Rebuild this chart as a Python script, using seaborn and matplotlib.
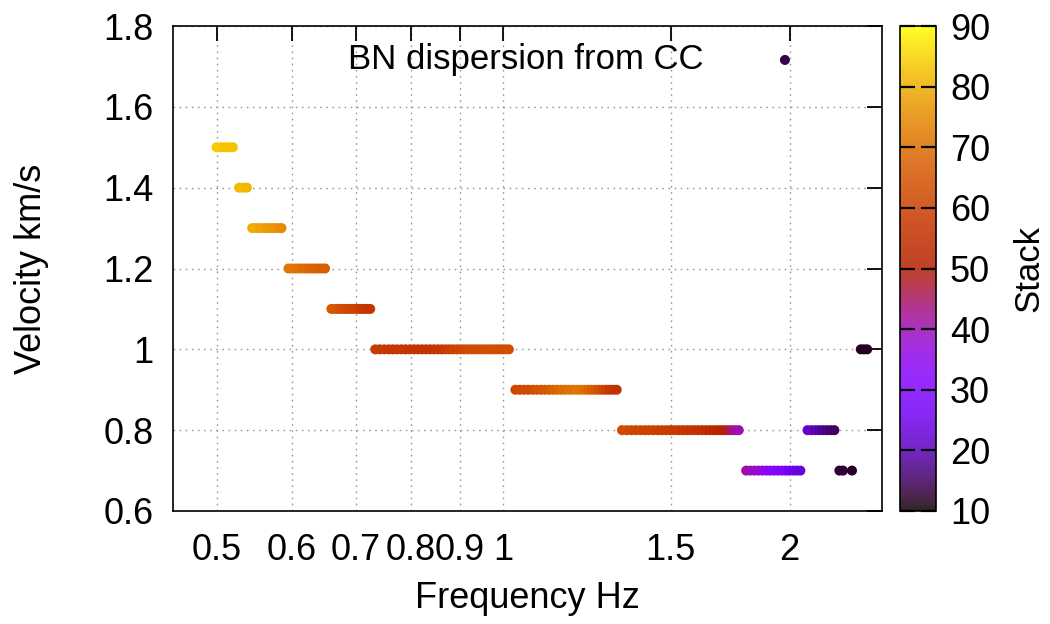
import numpy as np
import pandas as pd
import matplotlib
matplotlib.use("Agg")
import matplotlib.pyplot as plt
import seaborn as sns
from matplotlib.colors import ListedColormap, Normalize
from matplotlib.cm import ScalarMappable
from matplotlib.ticker import NullLocator

# ---------------- data ----------------
seg_velocity = [1.5, 1.4, 1.3, 1.2, 1.1, 1.0, 0.9, 0.8, 0.7, 0.8, 0.7, 1.0, 1.716]

seg_freq = [
    [0.500, 0.505, 0.510, 0.515, 0.520],
    [0.528, 0.533, 0.538],
    [0.545, 0.550, 0.555, 0.560, 0.565, 0.570, 0.575, 0.580, 0.585],
    [0.595, 0.600, 0.605, 0.610, 0.615, 0.620, 0.625, 0.630, 0.635, 0.640, 0.645, 0.650],
    [0.660, 0.665, 0.670, 0.675, 0.680, 0.685, 0.690, 0.695, 0.700, 0.705, 0.710, 0.715,
     0.720, 0.725],
    [0.734, 0.742, 0.750, 0.758, 0.766, 0.774, 0.782, 0.790, 0.798, 0.806, 0.814, 0.822,
     0.830, 0.838, 0.846, 0.854, 0.862, 0.870, 0.878, 0.886, 0.894, 0.902, 0.910, 0.918,
     0.926, 0.934, 0.942, 0.950, 0.958, 0.966, 0.974, 0.982, 0.990, 0.998, 1.006, 1.014],
    [1.030, 1.041, 1.052, 1.063, 1.074, 1.085, 1.096, 1.107, 1.118, 1.129, 1.140, 1.151,
     1.162, 1.173, 1.184, 1.195, 1.206, 1.217, 1.228, 1.239, 1.250, 1.261, 1.272, 1.283,
     1.294, 1.305, 1.316],
    [1.333, 1.348, 1.363, 1.378, 1.393, 1.408, 1.423, 1.438, 1.453, 1.468, 1.483, 1.498,
     1.513, 1.528, 1.543, 1.558, 1.573, 1.588, 1.603, 1.618, 1.633, 1.648, 1.663, 1.678,
     1.693, 1.708, 1.723, 1.738, 1.753, 1.768],
    [1.800, 1.818, 1.836, 1.854, 1.872, 1.890, 1.908, 1.926, 1.944, 1.962, 1.980, 1.998,
     2.016, 2.034, 2.052],
    [2.088, 2.108, 2.128, 2.148, 2.168, 2.188, 2.208, 2.228],
    [2.255, 2.275, 2.325],
    [2.375, 2.393, 2.412],
    [1.977],
]

seg_stack = [
    [84, 84, 83, 83, 83],
    [82, 82, 81],
    [80, 80, 79, 79, 78, 77, 77, 76, 75],
    [72, 72, 71, 71, 70, 70, 69, 69, 68, 68, 67, 67],
    [66, 66, 65, 64, 64, 63, 62, 61, 61, 60, 59, 58, 58, 57],
    [59, 59, 59, 58, 58, 58, 58, 57, 57, 57, 57, 57, 57, 57, 57, 58, 58, 59, 60, 61,
     61, 62, 62, 63, 63, 63, 63, 64, 64, 64, 64, 64, 64, 64, 64, 64],
    [62, 62, 63, 63, 64, 65, 65, 66, 67, 68, 69, 70, 70, 71, 71, 72, 71, 70, 69, 67,
     66, 64, 62, 60, 58, 57, 56],
    [63, 63, 62, 62, 62, 61, 61, 61, 60, 60, 60, 59, 59, 59, 58, 58, 57, 57, 56, 56,
     55, 54, 53, 52, 51, 50, 48, 45, 42, 40],
    [41, 40, 39, 38, 36, 35, 33, 32, 31, 30, 29, 27, 26, 24, 23],
    [22, 21, 20, 19, 18, 17, 16, 15],
    [13, 13, 12],
    [12, 12, 12],
    [14],
]

x_ticks = [0.5, 0.6, 0.7, 0.8, 0.9, 1.0, 1.5, 2.0]
x_ticklabels = ["0.5", "0.6", "0.7", "0.8", "0.9", "1", "1.5", "2"]
y_ticks = [0.6, 0.8, 1.0, 1.2, 1.4, 1.6, 1.8]
y_ticklabels = ["0.6", "0.8", "1", "1.2", "1.4", "1.6", "1.8"]
cb_ticks = [10, 20, 30, 40, 50, 60, 70, 80, 90]

rows = []
for v, fs, ss in zip(seg_velocity, seg_freq, seg_stack):
    for f, s in zip(fs, ss):
        rows.append((f, v, s))
df = pd.DataFrame(rows, columns=["Frequency", "Velocity", "Stack"])

# ---------------- style ----------------
sns.set_style("white")
plt.rcParams["font.family"] = ["Liberation Sans", "DejaVu Sans"]
for key in ["text.color", "axes.labelcolor", "xtick.color", "ytick.color", "axes.edgecolor"]:
    plt.rcParams[key] = "black"

# gnuplot default palette (rgbformulae 7,5,15)
_t = np.linspace(0, 1, 256)
cmap = ListedColormap(np.column_stack([np.sqrt(_t), _t ** 3,
                                       np.clip(np.sin(2 * np.pi * _t), 0, 1)]))
norm = Normalize(10, 90)

W, H = 1050, 624
fig = plt.figure(figsize=(W / 100, H / 100), dpi=100)
ax = fig.add_axes([173 / W, 1 - 511 / H, (882 - 173) / W, (511 - 26) / H])
cax = fig.add_axes([900 / W, 1 - 511 / H, 36 / W, (511 - 26) / H])

sns.scatterplot(data=df, x="Frequency", y="Velocity", hue="Stack", palette=cmap,
                hue_norm=(10, 90), s=52, linewidth=0, legend=False, ax=ax, zorder=3)

ax.set_xscale("log")
ax.set_xlim(0.45, 2.5)
ax.set_ylim(0.6, 1.8)
ax.xaxis.set_minor_locator(NullLocator())
ax.set_xticks(x_ticks)
ax.set_xticklabels(x_ticklabels)
ax.set_yticks(y_ticks)
ax.set_yticklabels(y_ticklabels)
ax.tick_params(axis="both", which="major", direction="in", length=11, width=1.3,
               top=True, right=True, labelsize=26, colors="black")
ax.tick_params(axis="x", pad=16)
ax.tick_params(axis="y", pad=14)
ax.grid(True, linestyle=(0, (1.2, 3.2)), color="#9a9a9a", linewidth=1.0)
ax.set_axisbelow(True)
for sp in ax.spines.values():
    sp.set_color("black")
    sp.set_linewidth(1.2)

ax.set_xlabel("Frequency Hz", fontsize=26)
ax.set_ylabel("Velocity km/s", fontsize=26)
ax.xaxis.set_label_coords(0.5, -0.145)
ax.yaxis.set_label_coords(-0.175, 0.5)

ax.text(0.498, 0.93, "BN dispersion from CC", transform=ax.transAxes,
        ha="center", va="center", fontsize=25)

sm = ScalarMappable(norm=norm, cmap=cmap)
cb = fig.colorbar(sm, cax=cax, ticks=cb_ticks)
cb.solids.set_alpha(0.85)
cb.solids.set_zorder(0.5)
cb.outline.set_linewidth(1.2)
cb.outline.set_edgecolor("black")
cax.set_axisbelow(False)
cax.yaxis.set_ticks_position("both")
cax.tick_params(axis="y", direction="in", length=11, width=1.6, color="black",
                left=True, right=True, labelleft=False, labelright=True,
                labelsize=26, pad=10, labelcolor="black")
cax.minorticks_off()
fig.text(1012 / W, 1 - 268 / H, "Stack", rotation=90, ha="left", va="center", fontsize=25)

fig.savefig("out.png", dpi=100)
